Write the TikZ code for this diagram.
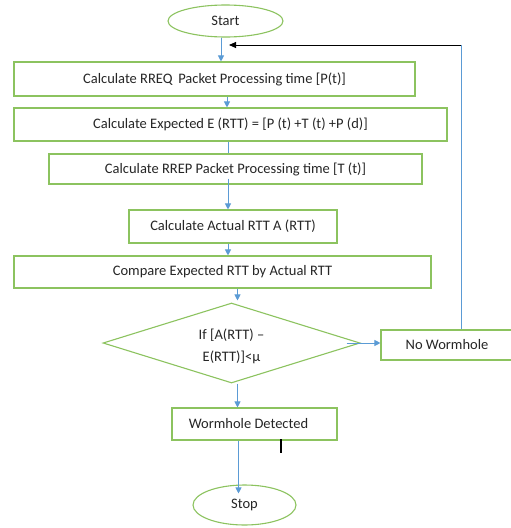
\documentclass[tikz,border=0pt]{standalone}
\usepackage{fontspec}
\setmainfont{Carlito}
\usetikzlibrary{shapes.geometric,arrows.meta}
\definecolor{gborder}{RGB}{140,195,95}
\definecolor{barrow}{RGB}{91,155,213}
\tikzset{
  stepbox/.style={draw=gborder, line width=1.1pt, rectangle, inner sep=0pt, text=black!85, font=\fontsize{14.5}{17}\selectfont},
  term/.style={draw=gborder, line width=1.1pt, ellipse, inner sep=0pt, text=black!85, font=\fontsize{14.5}{17}\selectfont},
  arr/.style={draw=barrow, line width=0.9pt, -{Triangle[length=6pt,width=6pt]}},
  plain/.style={draw=barrow, line width=0.9pt},
}
\begin{document}
\begin{tikzpicture}[x=1pt,y=-1pt]
\useasboundingbox (0,0) rectangle (511,528);
\clip (0,0) rectangle (511,528);
\fill[white] (0,0) rectangle (511,528);
\node[term, minimum width=115, minimum height=32] (start) at (225.5,21) {Start};
\node[stepbox, minimum width=401, minimum height=34] (b1) at (214.5,79) {Calculate RREQ\, Packet Processing time [P(t)]};
\node[stepbox, minimum width=433, minimum height=33] (b2) at (230.5,124.5) {Calculate Expected E (RTT) = [P (t) +T (t) +P (d)]};
\node[stepbox, minimum width=373, minimum height=30] (b3) at (235.5,169) {Calculate RREP Packet Processing time [T (t)]};
\node[stepbox, minimum width=208, minimum height=33] (b4) at (233,226.5) {Calculate Actual RTT A (RTT)};
\node[stepbox, minimum width=417, minimum height=32] (b5) at (222.5,272) {Compare Expected RTT by Actual RTT};
\node[stepbox, diamond, minimum width=257, minimum height=80] (dec) at (231.5,343) {\smash{\raisebox{-6.5pt}{\def\arraystretch{1.3}\begin{tabular}{@{}c@{}}If [A(RTT) --\\E(RTT)]<μ\end{tabular}}}};
\node[stepbox, minimum width=132, minimum height=30] (nw) at (447,345) {No Wormhole};
\node[stepbox, minimum width=165, minimum height=32] (wd) at (254.5,424) {\hspace*{-12pt}Wormhole Detected};
\node[term, minimum width=103, minimum height=40] (stop) at (244.5,505) {Stop};
\coordinate (corner) at (461,45);
\coordinate (ret) at (229,45);
% connectors
\draw[arr] ([xshift=-4.5pt]start.south) -- ([xshift=-4.5pt]start.south |- b1.north);
\draw[arr] ([xshift=12.5pt]b1.south) -- ([xshift=12.5pt]b1.south |- b2.north);
\draw[plain] ([xshift=-2.5pt]b2.south) -- ([xshift=-2.5pt]b2.south |- b3.north);
\draw[arr] ([xshift=-7.5pt,yshift=6pt]b3.south) -- ([xshift=-7.5pt]b3.south |- b4.north);
\draw[arr] ([xshift=-5pt]b4.south) -- ([xshift=-5pt]b4.south |- b5.north);
\draw[arr] ([xshift=15pt]b5.south) -- ([xshift=15pt,yshift=2pt]b5.south |- dec.north);
\draw[arr] ([xshift=-14pt]dec.east) -- (nw.west |- dec.east);
\draw[plain] (nw.north -| corner) -- (corner);
\draw[black, line width=0.9pt, -{Triangle[length=7pt,width=6pt]}] (corner) -- (ret);
\draw[arr] ([xshift=6pt]dec.south) -- ([xshift=6pt]dec.south |- wd.north);
\draw[arr] ([xshift=-16pt]wd.south) -- ([xshift=-16pt,yshift=-9pt]wd.south |- stop.north);
% cursor mark
\draw[black, line width=2.5pt] (281,439) -- (281,453);
\end{tikzpicture}
\end{document}
